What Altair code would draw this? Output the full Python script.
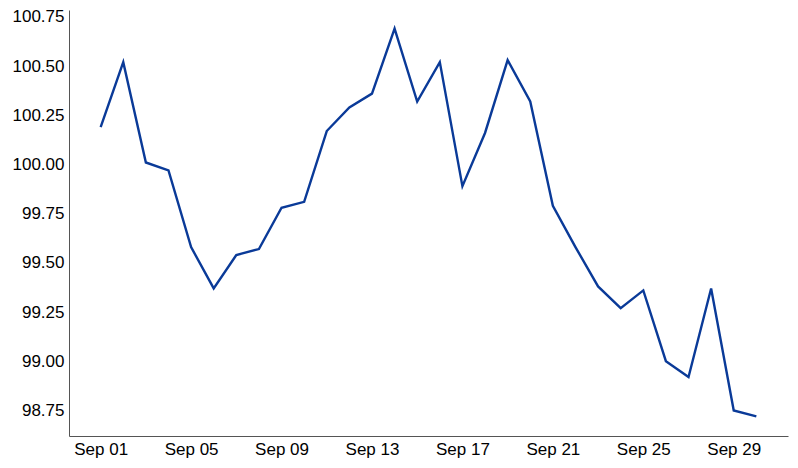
import altair as alt
import pandas as pd

dates = pd.date_range("2023-09-01", "2023-09-30", freq="D").strftime("%Y-%m-%dT00:00:00").tolist()
values = [100.19, 100.52, 100.01, 99.97, 99.58, 99.37, 99.54, 99.57, 99.78, 99.81,
          100.17, 100.29, 100.36, 100.69, 100.32, 100.52, 99.89, 100.16, 100.53, 100.32,
          99.79, 99.58, 99.38, 99.27, 99.36, 99.00, 98.92, 99.37, 98.75, 98.72]
tick_days = [1, 5, 9, 13, 17, 21, 25, 29]

df = pd.DataFrame({"date": dates, "value": values})

x_values = [alt.DateTime(year=2023, month=9, date=d) for d in tick_days]
x_domain = [alt.DateTime(year=2023, month=8, date=30, hours=14, minutes=24),
            alt.DateTime(year=2023, month=10, date=1, hours=9, minutes=36)]

chart = alt.Chart(df).mark_line(color="#0a3a98", strokeWidth=2.4).encode(
    x=alt.X("date:T", scale=alt.Scale(domain=x_domain, nice=False),
            axis=alt.Axis(values=x_values, format="%b %d", title=None, grid=False,
                          ticks=False, labelPadding=5, domainColor="#555555",
                          labelFontSize=17, labelFont="Liberation Sans", labelColor="#000000")),
    y=alt.Y("value:Q", scale=alt.Scale(domain=[98.62, 100.785], nice=False, zero=False),
            axis=alt.Axis(values=[98.75, 99.0, 99.25, 99.5, 99.75, 100.0, 100.25, 100.5, 100.75],
                          format=".2f", title=None, grid=False, ticks=False, labelPadding=5,
                          domainColor="#555555", labelFontSize=17, labelFont="Liberation Sans",
                          labelColor="#000000")),
).properties(
    width=719, height=426,
    autosize=alt.AutoSizeParams(type="none"),
    padding={"left": 61, "top": 2, "right": 2, "bottom": 24},
).configure_view(stroke=None)

chart.save("out.html", embed_options={"renderer": "svg", "actions": False})
